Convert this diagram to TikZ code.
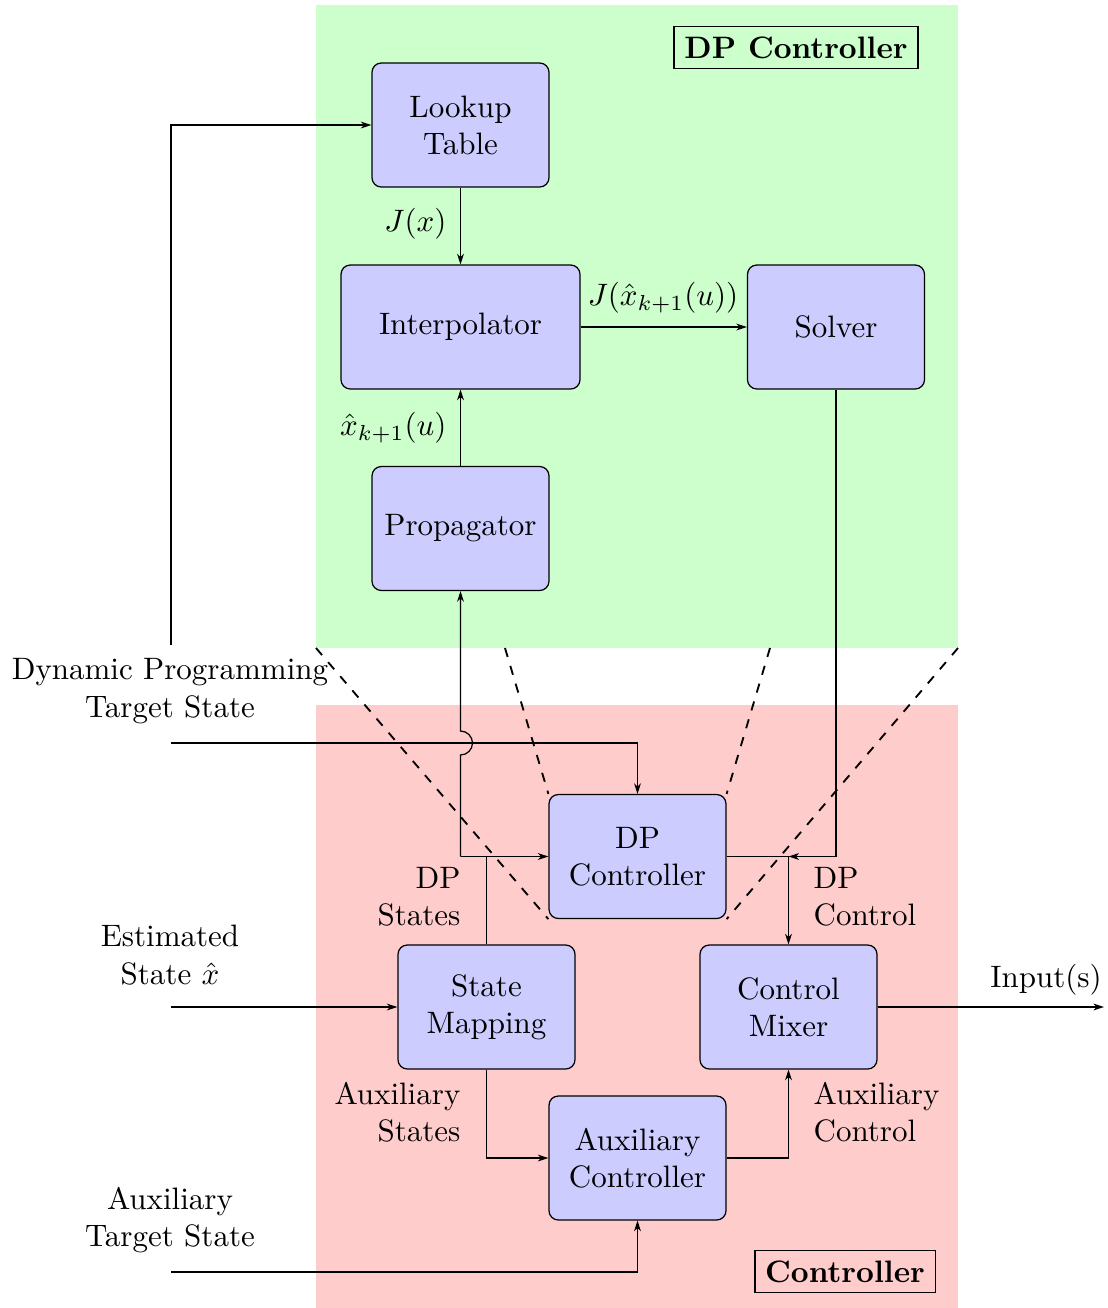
\documentclass[tikz,border=0pt]{standalone}
\usetikzlibrary{arrows.meta}
\definecolor{dpgreen}{HTML}{CCFFCC}
\definecolor{ctlred}{HTML}{FFCCCC}
\definecolor{blkblue}{HTML}{CCCCFF}
\begin{document}
\begin{tikzpicture}[x=0.3226pt,y=-0.3226pt,
  blk/.style={draw, fill=blkblue, rounded corners=3pt, align=center,
    minimum width=57.1pt, minimum height=40pt, inner sep=2pt},
  titlebox/.style={draw, font=\bfseries},
  lbl/.style={inner sep=0pt, align=center},
  arr/.style={-{Stealth[length=3.4pt,width=2.2pt,inset=1pt]}},
  zoomline/.style={dashed, semithick}]
\useasboundingbox (0,0) rectangle (1107,1308);

% backgrounds of the two blocks
\fill[dpgreen] (316,5) rectangle (958,648);
\fill[ctlred] (316,705) rectangle (958,1308);

% block titles
\node[titlebox] (dptitle) at (796,47.5) {DP Controller};
\node[titlebox] (ctltitle) at (845,1271.5) {Controller};

% DP controller internals
\node[blk] (lut) at (460.5,125) {Lookup\\Table};
\node[blk, minimum width=77.1pt] (interp) at (460.5,327) {Interpolator};
\node[blk] (solver) at (836,327) {Solver};
\node[blk] (prop) at (460.5,528.5) {Propagator};

% controller blocks
\node[blk] (dpc) at (637.5,856.5) {DP\\Controller};
\node[blk] (smap) at (486.5,1007) {State\\Mapping};
\node[blk] (cmix) at (788.5,1007) {Control\\Mixer};
\node[blk] (aux) at (637.5,1158) {Auxiliary\\Controller};

% outside inputs and output
\node[lbl] (dplab) at (170,691) {Dynamic Programming\\Target State};
\node[lbl] (estlab) at (170,955) {Estimated\\State $\hat{x}$};
\node[lbl] (auxlab) at (170,1220) {Auxiliary\\Target State};
\node[lbl] (outlab) at (1046,980) {Input(s)};

\coordinate (dptop) at (171,645);
\coordinate (dpin) at (171,743);
\coordinate (estin) at (171,1007);
\coordinate (auxin) at (171,1272);
\coordinate (out) at (1104,1007);
\coordinate (dsj) at (460.5,856.5);
\coordinate (dcj) at (788.5,856.5);

% signal labels
\node[lbl, anchor=east] (jx) at (447,224) {$J(x)$};
\node[lbl] (jxh) at (663,298) {$J(\hat{x}_{k+1}(u))$};
\node[lbl, anchor=east] (xh) at (447,428) {$\hat{x}_{k+1}(u)$};
\node[lbl, anchor=east, align=right] (dpst) at (461,897) {DP\\States};
\node[lbl, anchor=west, align=left] (dpctl) at (813,897) {DP\\Control};
\node[lbl, anchor=east, align=right] (auxst) at (461,1112) {Auxiliary\\States};
\node[lbl, anchor=west, align=left] (auxctl) at (813,1112) {Auxiliary\\Control};

% connectors inside the DP controller
\draw[arr] (lut) -- (interp);
\draw[arr] (interp) -- (solver);
\draw[arr] (prop) -- (interp);
\draw[arr] (dptop) |- (lut.west);

% connectors of the controller
\draw[arr] (dpin) -| (dpc.north);
\draw[arr] (dsj) -- (460.5,755) arc[start angle=-90, end angle=90, radius=3.87pt] -- (prop.south);
\draw (smap.north) -- (smap.north |- dsj);
\draw[arr] (dsj) -- (dpc.west);
\draw[arr] (solver.south) |- (dcj);
\draw[arr] (dpc.east) -| (cmix.north);
\draw[arr] (estin) -- (smap.west);
\draw[arr] (smap.south) |- (aux.west);
\draw[arr] (aux.east) -| (cmix.south);
\draw[arr] (auxin) -| (aux.south);
\draw[arr] (cmix.east) -- (out);

% projection of the DP controller block
\coordinate (p1) at (316,648);
\coordinate (p2) at (505,648);
\coordinate (p3) at (770,648);
\coordinate (p4) at (958,648);
\draw[zoomline] (p1) -- (dpc.south west);
\draw[zoomline] (p2) -- (dpc.north west);
\draw[zoomline] (p3) -- (dpc.north east);
\draw[zoomline] (p4) -- (dpc.south east);
\end{tikzpicture}
\end{document}
